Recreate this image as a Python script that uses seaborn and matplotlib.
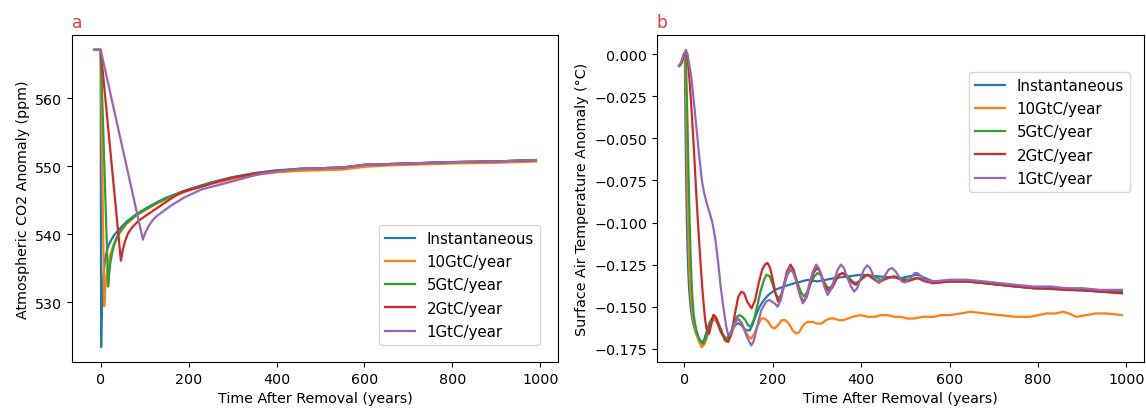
import matplotlib
matplotlib.use("Agg")
import matplotlib.pyplot as plt
import seaborn as sns
import pandas as pd

# ---------------- data: panel a (atmospheric CO2 anomaly, ppm) ----------------
scenarios = ["Instantaneous", "10GtC/year", "5GtC/year", "2GtC/year", "1GtC/year"]

a_inst_t = [-15, 0, 1, 2, 4, 7, 10, 15, 20, 30, 40, 60, 80, 100, 125, 150, 200, 250, 300, 350, 400, 450, 500, 550, 600, 650, 700, 800, 900, 990]
a_inst_v = [567.1, 567.1, 523.4, 527.5, 531.5, 534.5, 536.3, 537.8, 538.7, 539.8, 540.6, 541.9, 542.9, 543.7, 544.6, 545.4, 546.6, 547.6, 548.4, 549.0, 549.4, 549.6, 549.7, 549.8, 550.2, 550.3, 550.4, 550.6, 550.7, 550.9]

a_10_t = [-15, 0, 8, 10, 13, 17, 22, 30, 40, 60, 80, 100, 125, 150, 200, 250, 300, 350, 400, 450, 500, 550, 600, 650, 700, 800, 900, 990]
a_10_v = [567.1, 567.1, 529.4, 531.6, 533.8, 535.6, 537.0, 538.6, 539.9, 541.6, 542.7, 543.5, 544.4, 545.2, 546.4, 547.4, 548.1, 548.7, 549.1, 549.3, 549.4, 549.5, 549.9, 550.1, 550.2, 550.4, 550.5, 550.7]

a_5_t = [-15, 0, 17, 19, 22, 26, 30, 40, 50, 60, 80, 100, 125, 150, 200, 250, 300, 350, 400, 450, 500, 550, 600, 650, 700, 800, 900, 990]
a_5_v = [567.1, 567.1, 532.3, 534.0, 535.8, 537.2, 538.3, 540.0, 541.0, 541.7, 542.8, 543.6, 544.5, 545.3, 546.5, 547.5, 548.3, 548.9, 549.3, 549.6, 549.7, 549.8, 550.2, 550.3, 550.4, 550.6, 550.7, 550.9]

a_2_t = [-15, 0, 46, 50, 55, 62, 70, 85, 100, 125, 150, 183, 230, 260, 300, 350, 400, 450, 500, 550, 600, 650, 700, 800, 900, 990]
a_2_v = [567.1, 567.1, 536.1, 537.6, 538.9, 540.1, 540.9, 541.9, 542.6, 543.7, 544.8, 546.2, 547.0, 547.6, 548.3, 548.9, 549.3, 549.6, 549.7, 549.8, 550.2, 550.3, 550.4, 550.6, 550.7, 550.9]

a_1_t = [-15, 0, 96, 100, 110, 120, 130, 145, 160, 175, 190, 210, 230, 260, 290, 330, 365, 400, 430, 470, 500, 550, 600, 650, 700, 800, 900, 990]
a_1_v = [567.1, 567.1, 539.2, 540.0, 541.3, 542.2, 542.8, 543.5, 544.2, 544.8, 545.4, 546.0, 546.6, 547.1, 547.6, 548.3, 548.9, 549.2, 549.5, 549.6, 549.7, 549.8, 550.2, 550.3, 550.4, 550.6, 550.7, 550.9]

# ---------------- data: panel b (surface air temperature anomaly, degC) ----------------
b_inst_t = [-12, -8, -4, -1, 1, 2, 3, 4, 5, 6, 7, 9, 11, 14, 17, 20, 25, 30, 35, 39, 44, 50, 56, 62, 68, 75, 82, 90, 96, 103, 110, 118, 125, 132, 140, 148, 155, 162, 170, 180, 190, 205, 225, 250, 280, 300, 340, 400, 440, 490, 527, 563, 640, 714, 790, 864, 940, 990]
b_inst_v = [-0.007, -0.006, -0.003, 0.000, -0.005, -0.030, -0.055, -0.075, -0.092, -0.105, -0.116, -0.131, -0.141, -0.150, -0.156, -0.160, -0.165, -0.168, -0.170, -0.171, -0.170, -0.165, -0.160, -0.157, -0.157, -0.160, -0.165, -0.168, -0.169, -0.166, -0.163, -0.160, -0.160, -0.162, -0.164, -0.164, -0.160, -0.155, -0.150, -0.146, -0.143, -0.140, -0.138, -0.136, -0.134, -0.135, -0.133, -0.131, -0.132, -0.133, -0.131, -0.135, -0.135, -0.137, -0.139, -0.140, -0.141, -0.141]

b_10_t = [-12, -8, -4, -1, 2, 4, 6, 8, 10, 12, 15, 19, 25, 32, 39, 46, 55, 62, 69, 77, 85, 92, 99, 106, 113, 121, 128, 135, 143, 151, 158, 166, 174, 182, 190, 197, 204, 212, 220, 228, 236, 245, 253, 260, 266, 273, 279, 290, 300, 310, 320, 330, 339, 350, 360, 380, 399, 415, 430, 445, 460, 475, 489, 505, 519, 540, 564, 580, 600, 625, 647, 680, 714, 750, 782, 800, 820, 840, 857, 870, 887, 910, 930, 955, 977, 990]
b_10_v = [-0.007, -0.006, -0.003, 0.000, -0.004, -0.030, -0.065, -0.095, -0.118, -0.133, -0.146, -0.156, -0.164, -0.170, -0.174, -0.172, -0.165, -0.159, -0.157, -0.160, -0.165, -0.169, -0.170, -0.167, -0.161, -0.157, -0.159, -0.163, -0.167, -0.169, -0.166, -0.161, -0.157, -0.157, -0.159, -0.162, -0.163, -0.161, -0.158, -0.158, -0.160, -0.164, -0.166, -0.165, -0.162, -0.160, -0.159, -0.159, -0.160, -0.160, -0.158, -0.157, -0.157, -0.158, -0.158, -0.156, -0.155, -0.156, -0.156, -0.155, -0.155, -0.156, -0.156, -0.157, -0.157, -0.156, -0.156, -0.155, -0.155, -0.154, -0.153, -0.154, -0.155, -0.156, -0.156, -0.155, -0.154, -0.154, -0.153, -0.154, -0.156, -0.155, -0.154, -0.154, -0.1546, -0.155]

b_5_t = [-12, -8, -4, -1, 2, 4, 6, 8, 10, 12, 14, 16, 18, 21, 24, 28, 32, 37, 42, 48, 55, 61, 67, 73, 80, 88, 95, 99, 105, 112, 118, 125, 131, 138, 144, 150, 158, 166, 172, 180, 186, 193, 200, 206, 212, 219, 226, 233, 240, 248, 256, 263, 271, 278, 286, 294, 301, 308, 315, 322, 328, 336, 343, 350, 358, 366, 373, 381, 388, 400, 414, 430, 444, 460, 474, 490, 504, 527, 545, 563, 600, 640, 680, 714, 750, 790, 830, 864, 900, 940, 990]
b_5_v = [-0.007, -0.006, -0.003, 0.000, 0.001, -0.010, -0.030, -0.055, -0.080, -0.102, -0.120, -0.134, -0.145, -0.155, -0.160, -0.165, -0.168, -0.171, -0.172, -0.169, -0.163, -0.158, -0.155, -0.157, -0.162, -0.167, -0.169, -0.169, -0.166, -0.160, -0.156, -0.155, -0.156, -0.158, -0.161, -0.162, -0.157, -0.148, -0.141, -0.134, -0.131, -0.132, -0.137, -0.142, -0.145, -0.143, -0.137, -0.131, -0.128, -0.130, -0.136, -0.141, -0.144, -0.141, -0.136, -0.132, -0.130, -0.131, -0.135, -0.138, -0.139, -0.137, -0.134, -0.131, -0.130, -0.131, -0.133, -0.135, -0.136, -0.134, -0.131, -0.132, -0.134, -0.133, -0.132, -0.133, -0.134, -0.133, -0.134, -0.136, -0.135, -0.135, -0.136, -0.137, -0.138, -0.139, -0.139, -0.140, -0.140, -0.141, -0.142]

b_2_t = [-12, -8, -4, -1, 2, 5, 8, 11, 14, 17, 20, 23, 26, 29, 32, 35, 38, 41, 44, 47, 50, 56, 61, 65, 70, 76, 85, 92, 99, 107, 115, 122, 129, 135, 142, 152, 160, 168, 176, 182, 188, 194, 200, 206, 212, 218, 225, 232, 240, 247, 255, 263, 270, 277, 285, 292, 300, 307, 315, 322, 328, 336, 343, 350, 358, 366, 373, 381, 388, 396, 404, 414, 425, 436, 444, 460, 474, 490, 504, 527, 545, 563, 600, 640, 680, 714, 750, 790, 830, 864, 900, 940, 990]
b_2_v = [-0.007, -0.006, -0.003, 0.000, 0.001, 0.000, -0.005, -0.014, -0.025, -0.037, -0.050, -0.064, -0.079, -0.093, -0.106, -0.118, -0.130, -0.141, -0.150, -0.158, -0.163, -0.166, -0.160, -0.155, -0.156, -0.160, -0.166, -0.170, -0.171, -0.165, -0.153, -0.144, -0.141, -0.142, -0.147, -0.151, -0.146, -0.136, -0.128, -0.125, -0.124, -0.127, -0.134, -0.142, -0.147, -0.145, -0.137, -0.129, -0.125, -0.128, -0.136, -0.144, -0.147, -0.144, -0.136, -0.130, -0.127, -0.129, -0.135, -0.139, -0.141, -0.138, -0.134, -0.131, -0.130, -0.132, -0.134, -0.136, -0.137, -0.135, -0.132, -0.131, -0.133, -0.135, -0.135, -0.133, -0.132, -0.134, -0.135, -0.133, -0.135, -0.136, -0.135, -0.135, -0.136, -0.137, -0.138, -0.139, -0.139, -0.140, -0.140, -0.141, -0.142]

b_1_t = [-12, -8, -4, 0, 3, 7, 12, 16, 22, 28, 34, 40, 46, 52, 58, 64, 70, 76, 82, 88, 94, 99, 105, 112, 121, 130, 140, 151, 156, 162, 168, 174, 185, 192, 198, 204, 211, 218, 225, 232, 238, 245, 253, 261, 268, 275, 283, 291, 298, 304, 311, 318, 324, 331, 339, 347, 354, 361, 369, 377, 384, 391, 399, 406, 414, 420, 427, 433, 440, 447, 455, 462, 470, 478, 485, 492, 500, 507, 515, 521, 527, 536, 545, 563, 600, 640, 680, 714, 750, 790, 830, 864, 900, 940, 990]
b_1_v = [-0.007, -0.005, -0.002, 0.000, 0.0025, 0.000, -0.008, -0.015, -0.030, -0.046, -0.062, -0.076, -0.084, -0.090, -0.095, -0.101, -0.110, -0.123, -0.138, -0.150, -0.161, -0.167, -0.166, -0.160, -0.157, -0.160, -0.167, -0.173, -0.171, -0.165, -0.158, -0.152, -0.147, -0.146, -0.147, -0.148, -0.150, -0.146, -0.138, -0.131, -0.127, -0.129, -0.135, -0.143, -0.148, -0.145, -0.136, -0.129, -0.125, -0.127, -0.133, -0.139, -0.143, -0.140, -0.134, -0.128, -0.125, -0.127, -0.133, -0.138, -0.141, -0.139, -0.133, -0.128, -0.1254, -0.127, -0.131, -0.134, -0.136, -0.134, -0.131, -0.128, -0.127, -0.129, -0.132, -0.135, -0.1356, -0.134, -0.132, -0.130, -0.130, -0.132, -0.134, -0.135, -0.134, -0.134, -0.135, -0.136, -0.137, -0.138, -0.138, -0.139, -0.139, -0.140, -0.140]

# ---------------- build tables ----------------
def long_table(pairs):
    rows = []
    for name, (ts, vs) in zip(scenarios, pairs):
        for t, v in zip(ts, vs):
            rows.append({"t": t, "v": v, "scenario": name})
    return pd.DataFrame(rows)

df_a = long_table([(a_inst_t, a_inst_v), (a_10_t, a_10_v), (a_5_t, a_5_v), (a_2_t, a_2_v), (a_1_t, a_1_v)])
df_b = long_table([(b_inst_t, b_inst_v), (b_10_t, b_10_v), (b_5_t, b_5_v), (b_2_t, b_2_v), (b_1_t, b_1_v)])

# ---------------- plotting ----------------
plt.rcParams["font.family"] = ["DejaVu Sans"]
plt.rcParams["font.size"] = 10.3
palette = sns.color_palette("tab10", 5)

fig = plt.figure(figsize=(11.46, 4.14), dpi=100)
ax1 = fig.add_axes([72 / 1146, 1 - 363 / 414, 486 / 1146, 327 / 414])
ax2 = fig.add_axes([657 / 1146, 1 - 363 / 414, 487 / 1146, 327 / 414])

for ax, df in ((ax1, df_a), (ax2, df_b)):
    sns.lineplot(data=df, x="t", y="v", hue="scenario", hue_order=scenarios,
                 palette=palette, estimator=None, linewidth=1.6, ax=ax)
    ax.set_xticks([0, 200, 400, 600, 800, 1000])
    ax.set_xlabel("Time After Removal (years)")

ax1.set_ylabel("Atmospheric CO2 Anomaly (ppm)")
ax2.set_ylabel("Surface Air Temperature Anomaly (°C)")
ax1.set_yticks([530, 540, 550, 560])
ax2.set_yticks([0.0, -0.025, -0.05, -0.075, -0.1, -0.125, -0.15, -0.175])
ax2.set_yticklabels(["0.000", "\u22120.025", "\u22120.050", "\u22120.075", "\u22120.100",
                     "\u22120.125", "\u22120.150", "\u22120.175"])

ax1.set_title("a", loc="left", color="#e0403a")
ax2.set_title("b", loc="left", color="#e0403a")

h, l = ax1.get_legend_handles_labels()
ax1.legend(h, l, loc="lower right", bbox_to_anchor=(0.963, 0.052), borderaxespad=0,
           fontsize=10.8, labelspacing=0.55)
h, l = ax2.get_legend_handles_labels()
ax2.legend(h, l, loc="upper right", bbox_to_anchor=(0.971, 0.887), borderaxespad=0,
           fontsize=10.8, labelspacing=0.55)

fig.savefig("out.png", dpi=100)
